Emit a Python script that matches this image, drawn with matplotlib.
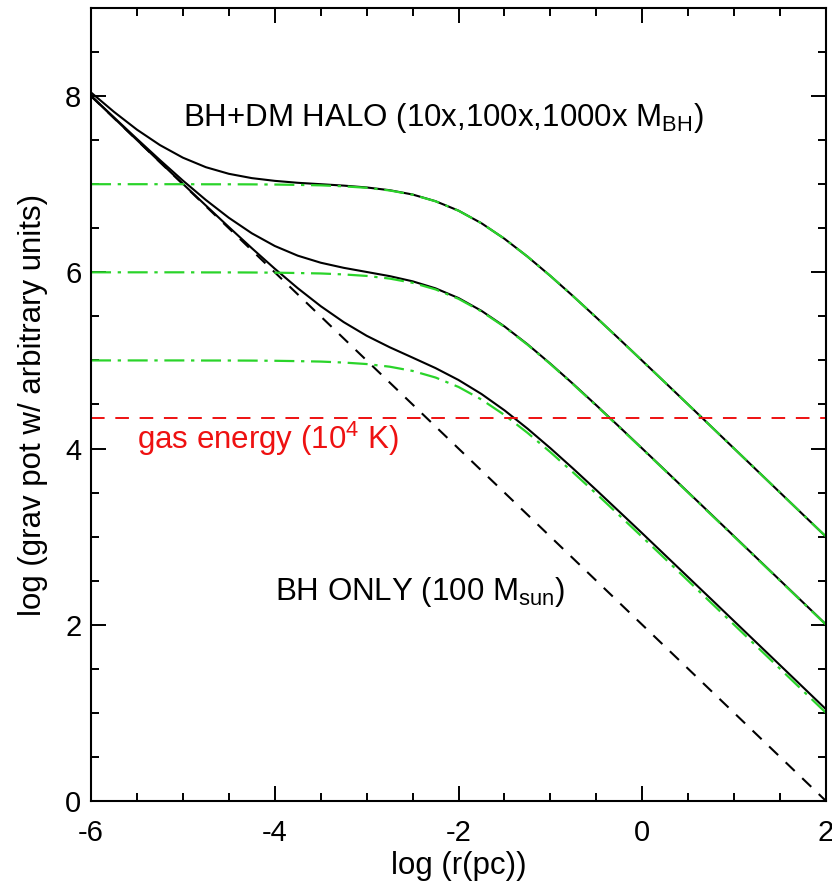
import numpy as np
import matplotlib
matplotlib.use('Agg')
import matplotlib.pyplot as plt
from matplotlib.ticker import MultipleLocator

plt.rcParams['font.family'] = ['Liberation Sans', 'DejaVu Sans']
plt.rcParams['mathtext.default'] = 'regular'
plt.rcParams['axes.unicode_minus'] = False

# log r (pc) sample points
log_r = [-6.0, -5.75, -5.5, -5.25, -5.0, -4.75, -4.5, -4.25, -4.0, -3.75, -3.5,
         -3.25, -3.0, -2.75, -2.5, -2.25, -2.0, -1.75, -1.5, -1.25, -1.0, -0.75,
         -0.5, -0.25, 0.0, 0.25, 0.5, 0.75, 1.0, 1.25, 1.5, 1.75, 2.0]

# BH only potential (straight line)
bh_r = [-6.0, 2.0]
bh_pot = [8.0, 0.0]

# DM halo potentials (1000x, 100x, 10x M_BH)
halo_1000 = [7.000, 7.000, 7.000, 7.000, 7.000, 6.999, 6.999, 6.998, 6.996, 6.992, 6.987,
             6.976, 6.959, 6.929, 6.881, 6.806, 6.699, 6.556, 6.381, 6.179, 5.959, 5.726,
             5.487, 5.242, 4.996, 4.748, 4.499, 4.249, 4.000, 3.750, 3.500, 3.250, 3.000]
halo_100 = [6.000, 6.000, 6.000, 6.000, 6.000, 5.999, 5.999, 5.998, 5.996, 5.992, 5.987,
            5.976, 5.959, 5.929, 5.881, 5.806, 5.699, 5.556, 5.381, 5.179, 4.959, 4.726,
            4.487, 4.242, 3.996, 3.748, 3.499, 3.249, 3.000, 2.750, 2.500, 2.250, 2.000]
halo_10 = [5.000, 5.000, 5.000, 5.000, 5.000, 4.999, 4.999, 4.998, 4.996, 4.992, 4.987,
           4.976, 4.959, 4.929, 4.881, 4.806, 4.699, 4.556, 4.381, 4.179, 3.959, 3.726,
           3.487, 3.242, 2.996, 2.748, 2.499, 2.249, 2.000, 1.750, 1.500, 1.250, 1.000]

# BH + DM halo total potentials
total_1000 = [8.041, 7.821, 7.619, 7.444, 7.301, 7.193, 7.118, 7.069, 7.038, 7.016, 7.000,
              6.984, 6.963, 6.932, 6.883, 6.807, 6.700, 6.557, 6.381, 6.179, 5.959, 5.727,
              5.487, 5.243, 4.996, 4.748, 4.499, 4.250, 4.000, 3.750, 3.500, 3.250, 3.000]
total_100 = [8.004, 7.758, 7.514, 7.274, 7.041, 6.821, 6.619, 6.443, 6.299, 6.189, 6.109,
             6.051, 6.004, 5.957, 5.898, 5.818, 5.708, 5.563, 5.386, 5.184, 4.963, 4.731,
             4.491, 4.247, 4.000, 3.752, 3.503, 3.254, 3.004, 2.754, 2.504, 2.254, 2.004]
total_10 = [8.000, 7.751, 7.501, 7.252, 7.004, 6.758, 6.514, 6.274, 6.041, 5.820, 5.616,
            5.435, 5.280, 5.150, 5.032, 4.913, 4.778, 4.619, 4.434, 4.227, 4.004, 3.770,
            3.529, 3.284, 3.038, 2.789, 2.540, 2.291, 2.041, 1.791, 1.541, 1.291, 1.041]

gas_energy = 4.35

fig = plt.figure(figsize=(8.32, 8.85), dpi=100)
ax = fig.add_axes([0.1094, 0.0949, 0.8834, 0.8961])

for tot in [total_1000, total_100, total_10]:
    ax.plot(log_r, tot, color='black', lw=1.5, solid_joinstyle='round')

ax.plot(bh_r, bh_pot, color='black', lw=1.5, dashes=(6, 5))

for halo in [halo_1000, halo_100, halo_10]:
    ax.plot(log_r, halo, color='#2ad42a', lw=1.6, dashes=(9, 3, 1.5, 3))

ax.axhline(gas_energy, color='#ee1111', lw=1.4, dashes=(7, 5.5))

ax.text(-5.0, 7.66, r'BH+DM HALO (10x,100x,1000x M$_{BH}$)', fontsize=22.5,
        ha='left', va='baseline')
ax.text(-5.5, 3.99, r'gas energy (10$^4$ K)', fontsize=22.5, color='#ee1111',
        ha='left', va='baseline')
ax.text(-4.0, 2.28, r'BH ONLY (100 M$_{sun}$)', fontsize=22.5,
        ha='left', va='baseline')

ax.set_xlim(-6, 2)
ax.set_ylim(0, 9)
ax.xaxis.set_major_locator(MultipleLocator(2))
ax.xaxis.set_minor_locator(MultipleLocator(0.5))
ax.yaxis.set_major_locator(MultipleLocator(2))
ax.yaxis.set_minor_locator(MultipleLocator(0.5))
ax.tick_params(which='both', direction='in', top=True, right=True, width=1.4)
ax.tick_params(which='major', length=11, labelsize=21)
ax.tick_params(which='minor', length=6)
ax.tick_params(axis='x', pad=13)
ax.tick_params(axis='y', pad=7)
for s in ax.spines.values():
    s.set_linewidth(1.5)

ax.set_xlabel('log (r(pc))', fontsize=22.5, labelpad=3)
ax.set_ylabel('log (grav pot w/ arbitrary units)', fontsize=22.5, labelpad=12)

fig.savefig('out.png', dpi=100)
